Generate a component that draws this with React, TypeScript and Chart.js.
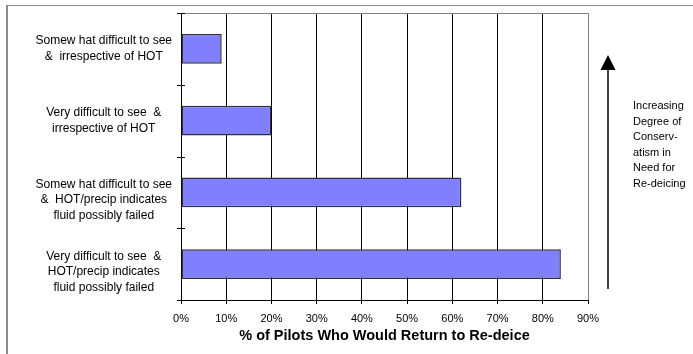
import { useEffect, useRef } from "react";
import { Chart, registerables } from "chart.js";

Chart.register(...registerables);

// Survey categories, top to bottom (a leading "" line nudges the three-line labels down a little)
const categories: string[][] = [
  ["Somew hat difficult to see", "&  irrespective of HOT"],
  ["Very difficult to see  &", "irrespective of HOT"],
  ["", "Somew hat difficult to see", "&  HOT/precip indicates", "fluid possibly failed"],
  ["", "Very difficult to see  &", "HOT/precip indicates", "fluid possibly failed"],
];

// Share of pilots (%) who would return to re-deice
const pilotShare: number[] = [9, 20, 62, 84];

const axisMin = 0;
const axisMax = 90;
const axisStep = 10;
const axisTitle = "% of Pilots Who Would Return to Re-deice";

// Side note next to the upward arrow
const sideNote: string[] = [
  "Increasing",
  "Degree of",
  "Conserv-",
  "atism in",
  "Need for",
  "Re-deicing",
];

const FONT = "'Liberation Sans', Arial, Helvetica, sans-serif";

const decorations = {
  id: "decorations",
  beforeDraw(chart: any) {
    const { ctx, width, height } = chart;
    ctx.save();
    ctx.fillStyle = "#ffffff";
    ctx.fillRect(0, 0, width, height);
    // outer frame (left and top edges)
    ctx.fillStyle = "#8c8c8c";
    ctx.fillRect(6, 5, 2, height - 5);
    ctx.fillRect(6, 5, width - 6, 1);
    ctx.restore();
  },
  afterDraw(chart: any) {
    const { ctx, chartArea: a } = chart;
    const yScale = chart.scales.y;
    ctx.save();

    // top edge of the plot frame
    ctx.strokeStyle = "#808080";
    ctx.lineWidth = 1;
    ctx.beginPath();
    ctx.moveTo(a.left, a.top + 0.5);
    ctx.lineTo(a.right, a.top + 0.5);
    ctx.stroke();

    // category tick marks crossing the value axis
    ctx.strokeStyle = "#000000";
    for (let i = 0; i <= categories.length; i++) {
      const py = Math.round(yScale.getPixelForValue(i - 0.5)) + 0.5;
      ctx.beginPath();
      ctx.moveTo(a.left - 4, py);
      ctx.lineTo(a.left + 4, py);
      ctx.stroke();
    }

    // upward arrow
    const ax = a.right + 20;
    const tipY = a.top + 42;
    const baseY = tipY + 15;
    ctx.lineWidth = 1.5;
    ctx.beginPath();
    ctx.moveTo(ax, baseY);
    ctx.lineTo(ax, a.bottom - 11);
    ctx.stroke();
    ctx.fillStyle = "#000000";
    ctx.beginPath();
    ctx.moveTo(ax, tipY);
    ctx.lineTo(ax - 7.5, baseY);
    ctx.lineTo(ax + 7.5, baseY);
    ctx.closePath();
    ctx.fill();

    // side note text
    ctx.font = `11px ${FONT}`;
    ctx.textAlign = "left";
    ctx.textBaseline = "middle";
    sideNote.forEach((line, i) => {
      ctx.fillText(line, a.right + 45, a.top + 93 + i * 15.5);
    });

    ctx.restore();
  },
};

export default function App() {
  const canvasRef = useRef<HTMLCanvasElement | null>(null);

  useEffect(() => {
    const canvas = canvasRef.current;
    if (!canvas) return;
    const chart = new Chart(canvas, {
      type: "bar",
      data: {
        labels: categories,
        datasets: [
          {
            data: pilotShare,
            backgroundColor: "#8080ff",
            borderColor: "#2e2e40",
            borderWidth: 1.5,
            borderSkipped: false,
            categoryPercentage: 1,
            barPercentage: 0.415,
          },
        ],
      },
      options: {
        indexAxis: "y",
        responsive: false,
        animation: false,
        devicePixelRatio: 1,
        layout: { padding: { left: 0, top: 13, right: 105, bottom: 0 } },
        plugins: {
          legend: { display: false },
          tooltip: { enabled: false },
        },
        scales: {
          x: {
            type: "linear",
            min: axisMin,
            max: axisMax,
            ticks: {
              stepSize: axisStep,
              color: "#000000",
              padding: 8,
              font: { family: FONT, size: 11 },
              callback: (v: any) => `${v}%`,
            },
            grid: {
              color: (c: any) => (c.tick && c.tick.value === axisMax ? "#808080" : "#000000"),
              lineWidth: 1,
              drawTicks: true,
              tickLength: 4,
              tickColor: "#000000",
            },
            border: { display: true, color: "#000000", width: 1 },
            title: {
              display: true,
              text: axisTitle,
              color: "#000000",
              font: { family: FONT, size: 14.5, weight: "bold" },
              padding: { top: 0, bottom: 9 },
            },
            afterFit: (scale: any) => {
              scale.height = 54;
              scale.paddingLeft = 0;
              scale.paddingRight = 0;
            },
          },
          y: {
            type: "category",
            ticks: {
              color: "#000000",
              padding: 9,
              crossAlign: "center",
              font: { family: FONT, size: 12, lineHeight: "15.5px" },
            },
            grid: { display: true, drawOnChartArea: false, drawTicks: false },
            border: { display: true, color: "#000000", width: 1 },
            afterFit: (scale: any) => {
              scale.width = 181;
              scale.paddingTop = 0;
              scale.paddingBottom = 0;
            },
          },
        },
      },
      plugins: [decorations],
    } as any);
    return () => chart.destroy();
  }, []);

  return (
    <div style={{ position: "absolute", left: 0, top: 0, width: 693, height: 354, background: "#fff" }}>
      <canvas ref={canvasRef} width={693} height={354} />
    </div>
  );
}
